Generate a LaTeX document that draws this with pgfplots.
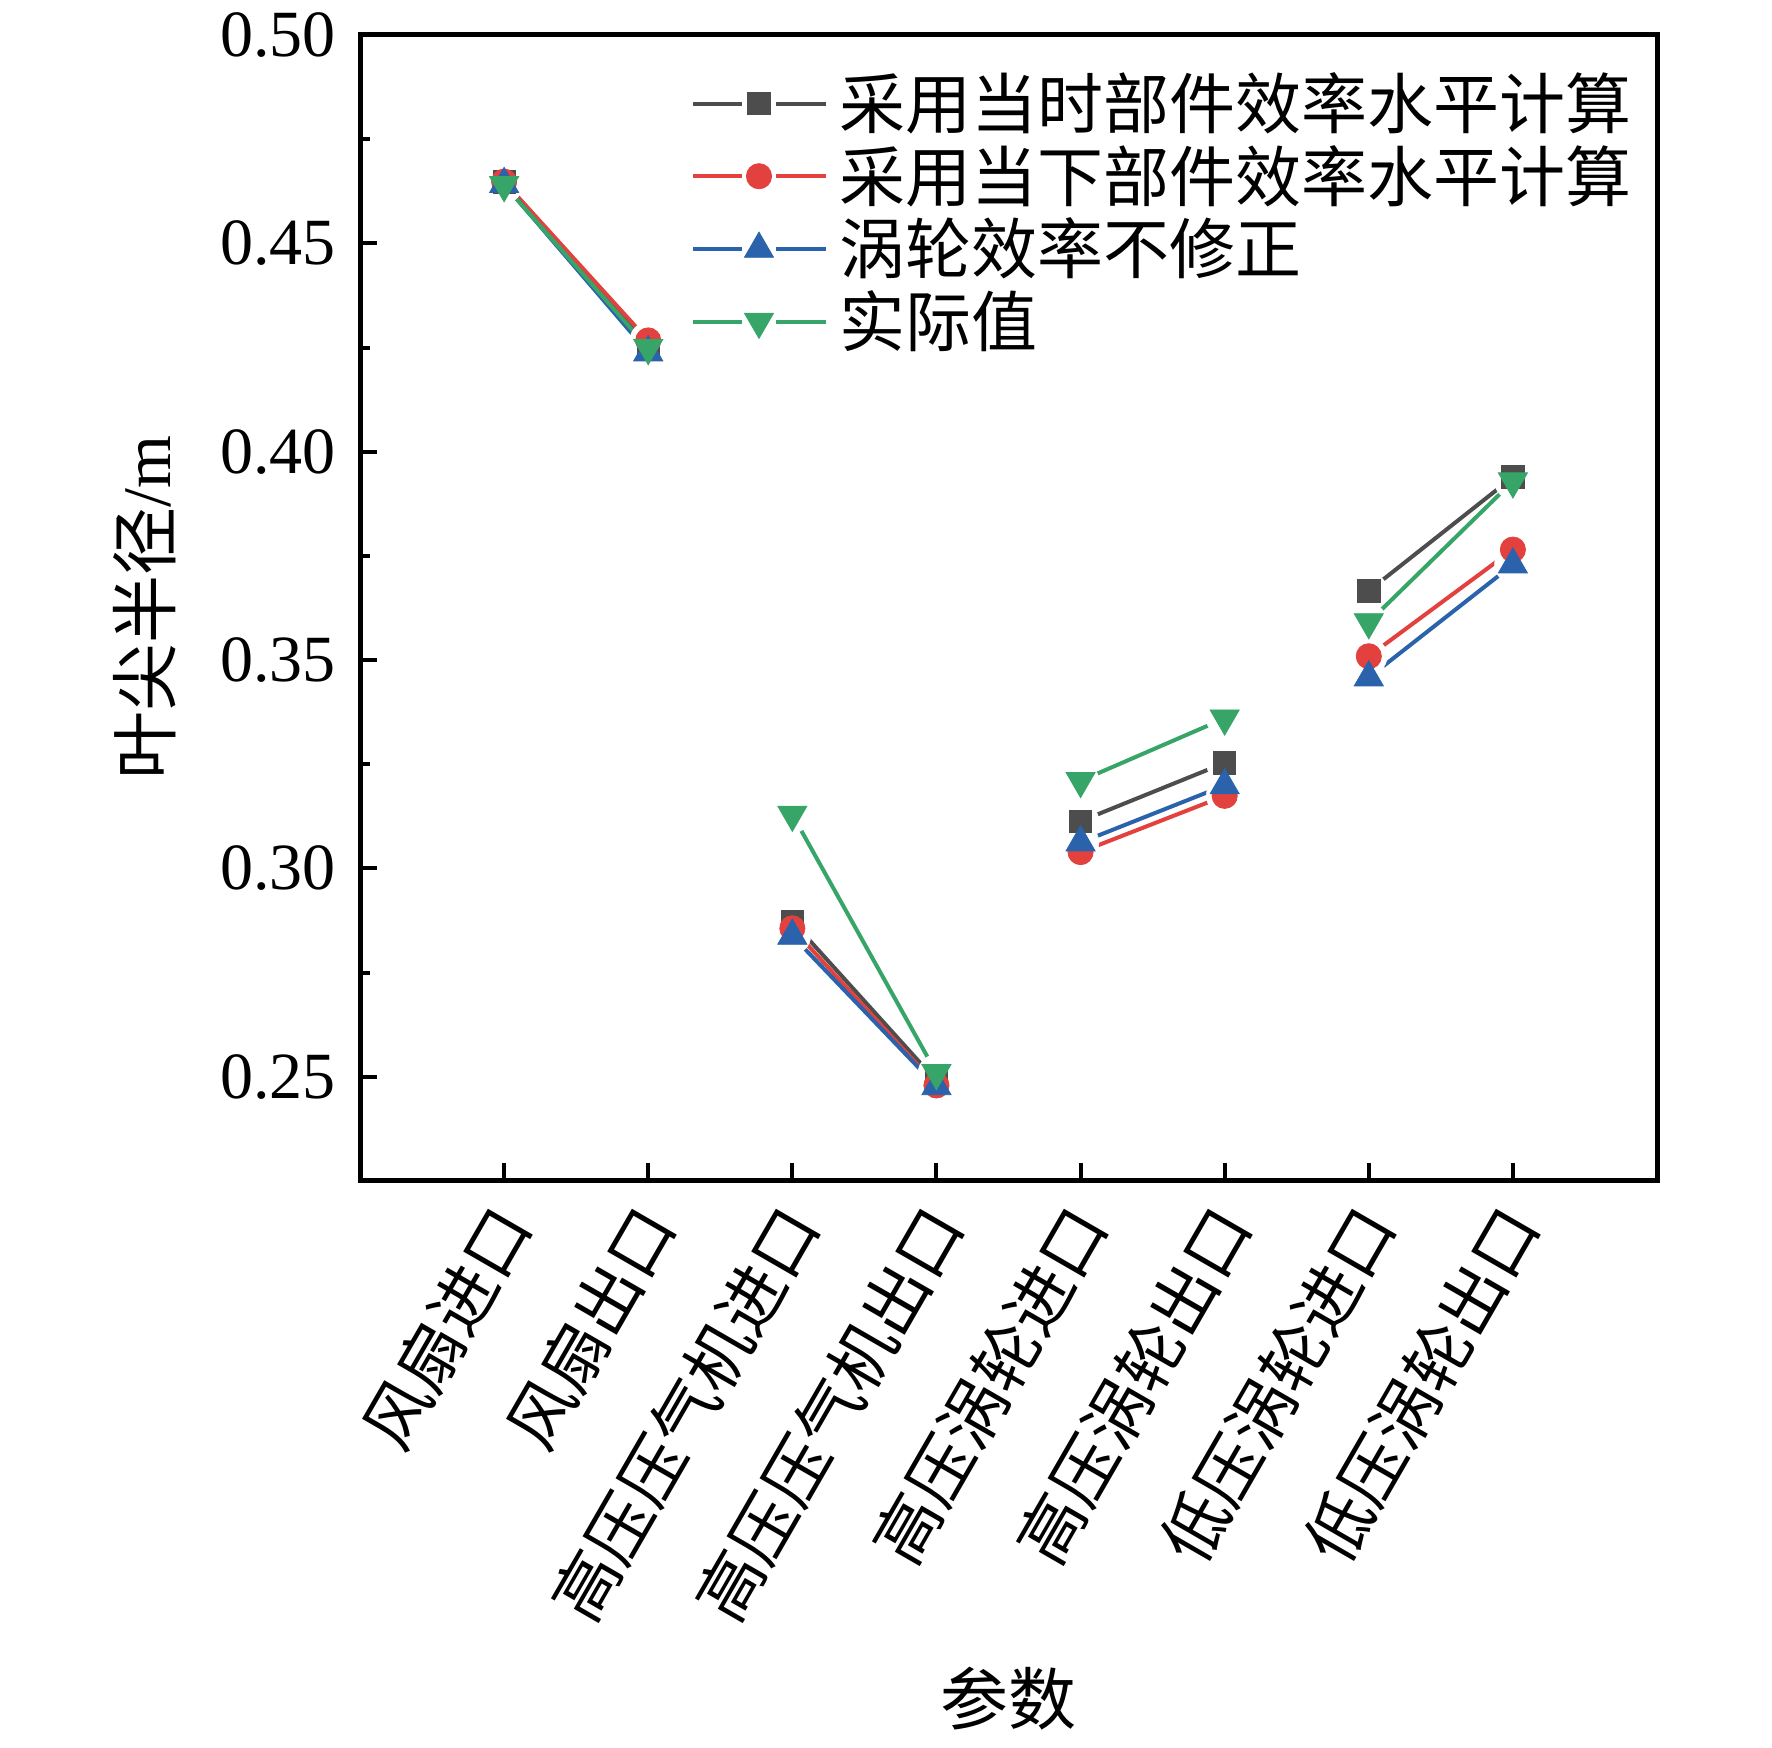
\documentclass[border=0pt]{standalone}
\usepackage{fontspec}
\setmainfont{Liberation Serif}
\newfontfamily\cjk{Noto Sans CJK SC}
\usepackage{pgfplots}
\usepackage{pgfplotstable}
\pgfplotsset{compat=1.18}

\definecolor{cA}{RGB}{77,77,77}
\definecolor{cB}{RGB}{226,65,62}
\definecolor{cC}{RGB}{42,99,172}
\definecolor{cD}{RGB}{56,165,104}

\pgfplotstableread{
x y
1 0.4647
2 0.4255
2.5 nan
3 0.2873
4 0.2490
4.5 nan
5 0.3113
6 0.3253
6.5 nan
7 0.3666
8 0.3939
}\dataA
\pgfplotstableread{
x y
1 0.4648
2 0.4267
2.5 nan
3 0.2856
4 0.2479
4.5 nan
5 0.3039
6 0.3174
6.5 nan
7 0.3509
8 0.3765
}\dataB
\pgfplotstableread{
x y
1 0.4642
2 0.4238
2.5 nan
3 0.2838
4 0.2477
4.5 nan
5 0.3062
6 0.3199
6.5 nan
7 0.3458
8 0.3729
}\dataC
\pgfplotstableread{
x y
1 0.4640
2 0.4249
2.5 nan
3 0.3129
4 0.2509
4.5 nan
5 0.3210
6 0.3360
6.5 nan
7 0.3591
8 0.3929
}\dataD

\begin{document}
\begin{tikzpicture}
\begin{axis}[
  scale only axis,
  width=324.25pt, height=286.25pt,
  xmin=0, xmax=9,
  ymin=0.2252, ymax=0.50,
  unbounded coords=jump,
  axis line style={line width=1.25pt},
  tick style={line width=1pt, black},
  tick align=inside,
  tick pos=left,
  major tick length=4.25pt,
  minor tick length=2.5pt,
  xtick={1,2,3,4,5,6,7,8},
  xticklabels={风扇进口,风扇出口,高压压气机进口,高压压气机出口,高压涡轮进口,高压涡轮出口,低压涡轮进口,低压涡轮出口},
  xticklabel style={font=\cjk\fontsize{16.5}{16.5}\selectfont, rotate=60, anchor=east, inner sep=0pt, yshift=-6pt, xshift=-6pt},
  ytick={0.25,0.30,0.35,0.40,0.45,0.50},
  minor ytick={0.275,0.325,0.375,0.425,0.475},
  yticklabel style={font=\fontsize{16.5}{16.5}\selectfont, inner sep=0pt, xshift=-5.9pt,
     /pgf/number format/fixed, /pgf/number format/fixed zerofill, /pgf/number format/precision=2},
  /pgf/number format/assume math mode=true,
  ylabel={{\cjk 叶尖半径}/m},
  ylabel style={font=\fontsize{17}{17}\selectfont, at={(axis description cs:-0.1658,0.5)}, anchor=center},
  xlabel={参数},
  xlabel style={font=\cjk\fontsize{17}{17}\selectfont, at={(axis description cs:0.5,-0.4533)}, anchor=center},
  legend style={at={(axis description cs:0.2552,0.9672)}, anchor=north west, draw=none, fill=none,
     inner sep=0pt, outer sep=0pt, row sep=2.7pt, column sep=2.85pt,
     font=\cjk\fontsize{16.5}{16.5}\selectfont, nodes={inner sep=0pt}},
  legend cell align=left,
  legend image code/.code={
    \draw[#1,mark=none] (0pt,0pt) -- (12.25pt,0pt);
    \draw[#1,mark=none] (20.75pt,0pt) -- (33.25pt,0pt);
    \draw[#1] plot coordinates {(16.5pt,0pt)};
  },
]
\addplot[cA, line width=1pt, mark=square*, mark size=2.8pt, mark options={line width=0.2pt, fill=cA}] table {\dataA};
\addlegendentry{采用当时部件效率水平计算}
\addplot[cB, line width=1pt, mark=*, mark size=3.15pt, mark options={line width=0.2pt, fill=cB}] table {\dataB};
\addlegendentry{采用当下部件效率水平计算}
\addplot[cC, line width=1pt, mark=triangle*, mark size=4.2pt, mark options={line width=0.2pt, fill=cC}] table {\dataC};
\addlegendentry{涡轮效率不修正}
\addplot[cD, line width=1pt, mark=triangle*, mark size=4.2pt, mark options={line width=0.2pt, fill=cD, rotate=180}] table {\dataD};
\addlegendentry{实际值}
% white gaps around markers
\addplot[forget plot, white, only marks, mark=*, mark size=4.6pt, mark options={draw=white, fill=white, line width=0.1pt}] table {\dataA};
\addplot[forget plot, white, only marks, mark=*, mark size=4.6pt, mark options={draw=white, fill=white, line width=0.1pt}] table {\dataB};
\addplot[forget plot, white, only marks, mark=*, mark size=4.6pt, mark options={draw=white, fill=white, line width=0.1pt}] table {\dataC};
\addplot[forget plot, white, only marks, mark=*, mark size=4.6pt, mark options={draw=white, fill=white, line width=0.1pt}] table {\dataD};
% markers on top
\addplot[forget plot, only marks, cA, mark=square*, mark size=2.8pt, mark options={line width=0.2pt, fill=cA}] table {\dataA};
\addplot[forget plot, only marks, cB, mark=*, mark size=3.15pt, mark options={line width=0.2pt, fill=cB}] table {\dataB};
\addplot[forget plot, only marks, cC, mark=triangle*, mark size=4.2pt, mark options={line width=0.2pt, fill=cC}] table {\dataC};
\addplot[forget plot, only marks, cD, mark=triangle*, mark size=4.2pt, mark options={line width=0.2pt, fill=cD, rotate=180}] table {\dataD};
\end{axis}
\pgfresetboundingbox
\path[use as bounding box] (-90pt,-141.75pt) rectangle (353pt,295pt);
\end{tikzpicture}
\end{document}
